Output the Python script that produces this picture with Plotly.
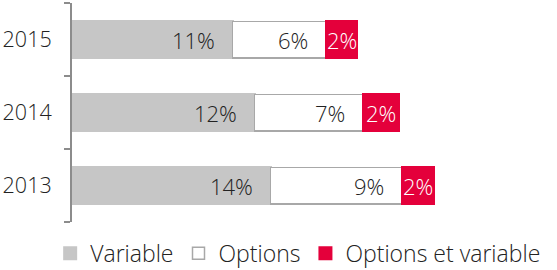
import plotly.graph_objects as go

years = ["2013", "2014", "2015"]
variable = [13.6, 12.5, 11.0]
options = [9.0, 7.4, 6.4]
opt_var = [2.2, 2.5, 2.1]
variable_lbl = ["14%", "12%", "11%"]
options_lbl = ["9%", "7%", "6%"]
opt_var_lbl = ["2%", "2%", "2%"]

GRAY = "#c6c6c6"
RED = "#e4003b"
FONT = "Open Sans"
TXT = "#222222"
W = 300

fig = go.Figure()
fig.add_bar(y=years, x=variable, orientation="h", name="Variable",
            marker=dict(color=GRAY, line=dict(color=GRAY, width=2)))
fig.add_bar(y=years, x=options, orientation="h", name="Options",
            marker=dict(color="#ffffff", line=dict(color="#a8a8a8", width=1.5)))
fig.add_bar(y=years, x=opt_var, orientation="h", name="Options et variable",
            marker=dict(color=RED, line=dict(color=RED, width=2)))

ann = []
for i, y in enumerate(years):
    c1 = variable[i]
    c2 = c1 + options[i]
    c3 = c2 + opt_var[i]
    ann.append(dict(x=c1, y=i, xref="x", yref="y", text=variable_lbl[i], xanchor="right", xshift=-16,
                    showarrow=False, font=dict(color=TXT, size=22, family=FONT, weight=W)))
    ann.append(dict(x=c2, y=i, xref="x", yref="y", text=options_lbl[i], xanchor="right", xshift=-16,
                    showarrow=False, font=dict(color=TXT, size=22, family=FONT, weight=W)))
    ann.append(dict(x=(c2 + c3) / 2, y=i, xref="x", yref="y", text=opt_var_lbl[i], xanchor="center",
                    showarrow=False, font=dict(color="#ffffff", size=22, family=FONT, weight=W)))

fig.update_layout(
    template="none",
    width=557, height=270,
    margin=dict(l=72, r=0, t=3, b=48, autoexpand=False),
    barmode="stack", bargap=0.5,
    plot_bgcolor="white", paper_bgcolor="white",
    font=dict(family=FONT, size=21, color=TXT, weight=W),
    annotations=ann,
    showlegend=True,
    legend=dict(orientation="h", x=-0.045, xanchor="left", y=-0.045, yanchor="top",
                font=dict(size=23, family=FONT, color=TXT, weight=W),
                traceorder="normal", itemwidth=30, tracegroupgap=0),
    xaxis=dict(range=[0, 33.2], showticklabels=False, showgrid=False, zeroline=False,
               showline=False, ticks="", fixedrange=True, automargin=False),
    yaxis=dict(type="category", categoryorder="array", categoryarray=years, range=[-0.5, 2.5],
               showline=True, linecolor="#8c8c8c", linewidth=2,
               ticks="outside", tickson="boundaries", ticklen=6, tickwidth=2,
               tickcolor="#8c8c8c", ticklabelstandoff=14, automargin=False,
               tickfont=dict(size=21.5, family=FONT, color=TXT, weight=W),
               showgrid=False, zeroline=False, fixedrange=True),
)

fig.write_html("out.html", config={"displayModeBar": False},
               post_script="document.body.style.margin='0px';")
